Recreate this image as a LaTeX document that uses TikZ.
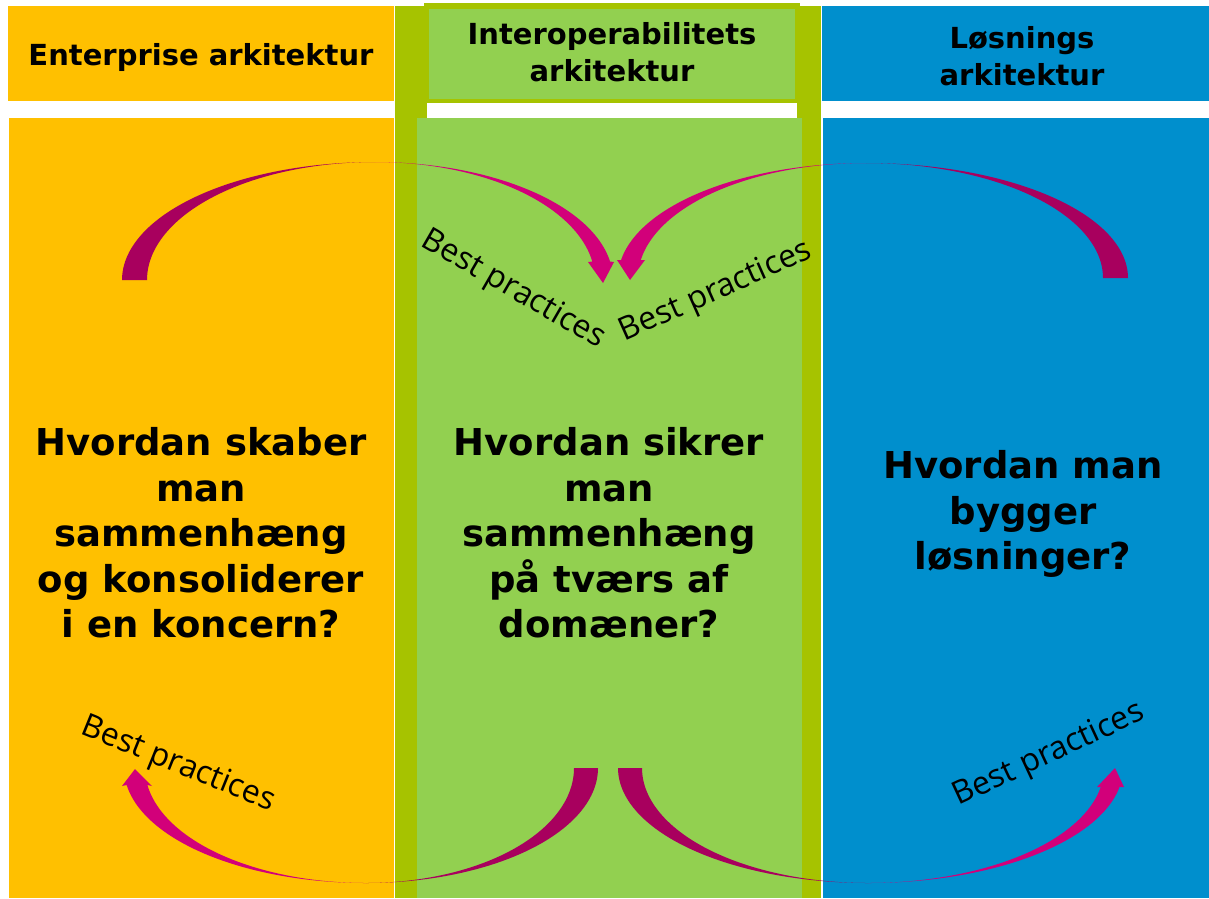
\documentclass[tikz,border=0pt]{standalone}
\usepackage{fontspec}
\setmainfont{DejaVu Sans}
\newfontfamily\bpfont{Open Sans}
\definecolor{entorange}{HTML}{FFC000}
\definecolor{intlight}{HTML}{92D050}
\definecolor{intdark}{HTML}{A6C300}
\definecolor{losblue}{HTML}{008FCD}
\definecolor{arcpink}{HTML}{D2007A}
\definecolor{arcdark}{HTML}{A8005E}
\begin{document}
\begin{tikzpicture}[x=1pt,y=-1pt,
    head/.style={font=\bfseries\fontsize{29}{37}\selectfont,align=center,inner sep=0pt},
    question/.style={font=\bfseries\fontsize{37}{45.5}\selectfont,align=center,inner sep=0pt},
    bptext/.style={font=\bpfont\fontsize{32}{38}\selectfont,inner sep=0pt}]
    \useasboundingbox (0,0) rectangle (1209,898);
    \fill[white] (0,0) rectangle (1209,898);
    % middle column frame
    \fill[intdark] (395,6) rectangle (821,898);
    \fill[intdark] (424,3) rectangle (800,103);
    \fill[white] (427,103) rectangle (797,118);
    \fill[intlight] (429,9) rectangle (795,99);
    \fill[intlight] (417,118) rectangle (802,898);
    % outer columns
    \fill[entorange] (8,6) rectangle (394,101);
    \fill[entorange] (9,118) rectangle (394,898);
    \fill[losblue] (822,6) rectangle (1209,101);
    \fill[losblue] (823,118) rectangle (1209,898);
    % arcs at the top
    \fill[arcdark] plot[smooth,samples=60,domain=180:90] ({375+253*cos(\x)},{280-118*sin(\x)})
      -- plot[smooth,samples=60,domain=90:180] ({375+228*cos(\x)},{280-118*sin(\x)}) -- cycle;
    \fill[arcpink] plot[smooth,samples=60,domain=90:9] ({375+238*cos(\x)},{280-118*sin(\x)})
      -- (614,262) -- (603,283) -- (588,262)
      -- plot[smooth,samples=60,domain=9:90] ({375+220*cos(\x)},{280-118*sin(\x)}) -- cycle;
    \fill[arcpink] plot[smooth,samples=60,domain=90:171] ({866+248*cos(\x)},{278-115*sin(\x)})
      -- (617,260) -- (630,280) -- (645,260)
      -- plot[smooth,samples=60,domain=171:90] ({866+228*cos(\x)},{278-115*sin(\x)}) -- cycle;
    \fill[arcdark] plot[smooth,samples=60,domain=90:0] ({866+262*cos(\x)},{278-115*sin(\x)})
      -- plot[smooth,samples=60,domain=0:90] ({866+237*cos(\x)},{278-115*sin(\x)}) -- cycle;
    % arcs at the bottom
    \fill[arcpink] plot[smooth,samples=60,domain=90:171.5] ({366+242*cos(\x)},{768+115*sin(\x)})
      -- (122,786) -- (135,769) -- (152,786)
      -- plot[smooth,samples=60,domain=171.5:90] ({366+221*cos(\x)},{768+115*sin(\x)}) -- cycle;
    \fill[arcdark] plot[smooth,samples=60,domain=90:0] ({366+232*cos(\x)},{768+115*sin(\x)})
      -- plot[smooth,samples=60,domain=0:90] ({366+208*cos(\x)},{768+115*sin(\x)}) -- cycle;
    \fill[arcdark] plot[smooth,samples=60,domain=180:90] ({868+250*cos(\x)},{768+115*sin(\x)})
      -- plot[smooth,samples=60,domain=90:180] ({868+226*cos(\x)},{768+115*sin(\x)}) -- cycle;
    \fill[arcpink] plot[smooth,samples=60,domain=90:9.5] ({868+255*cos(\x)},{768+115*sin(\x)})
      -- (1124,787) -- (1115,768) -- (1097,787)
      -- plot[smooth,samples=60,domain=9.5:90] ({868+236*cos(\x)},{768+115*sin(\x)}) -- cycle;
    % headers
    \draw (201,57) node[head] (hdent) {Enterprise arkitektur};
    \draw (612,52) node[head] (hdint) {Interoperabilitets\\arkitektur};
    \draw (1022,56) node[head] (hdlos) {Løsnings\\arkitektur};
    % questions
    \draw (201,533) node[question] (qent) {Hvordan skaber\\man\\sammenhæng\\og konsoliderer\\i en koncern?};
    \draw (609,533) node[question] (qint) {Hvordan sikrer\\man\\sammenhæng\\på tværs af\\domæner?};
    \draw (1023,514) node[question] (qlos) {Hvordan man\\bygger\\løsninger?};
    % labels on the arcs
    \draw (513,290) node[bptext,rotate=-30] (bpa) {Best practices};
    \draw (716,292) node[bptext,rotate=24] (bpb) {Best practices};
    \draw (178,765) node[bptext,rotate=-22] (bpc) {Best practices};
    \draw (1049,755) node[bptext,rotate=25] (bpd) {Best practices};
\end{tikzpicture}
\end{document}
